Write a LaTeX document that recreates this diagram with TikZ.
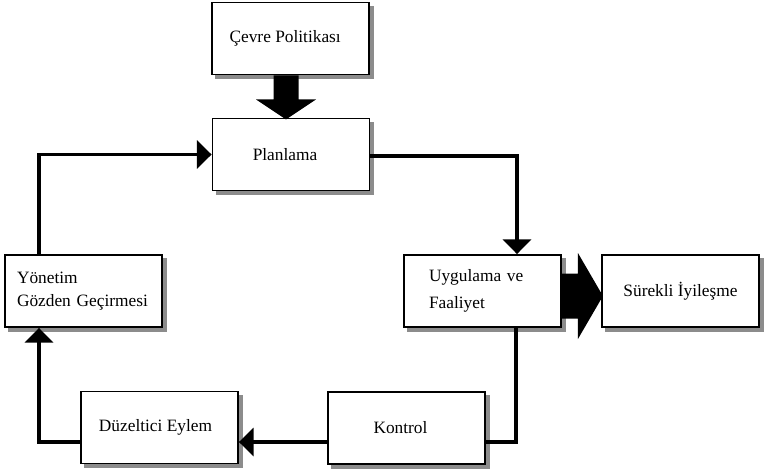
\documentclass[tikz,border=0pt]{standalone}
\usepackage{fontspec}
\setmainfont{Liberation Serif}
\usetikzlibrary{arrows.meta,calc,backgrounds}
\begin{document}
\begin{tikzpicture}[x=0.75pt,y=-0.75pt,
  box/.style={draw,line width=1.4pt,fill=white,minimum width=117.75pt,minimum height=54pt,inner sep=0pt,
    font=\fontsize{13}{15.5}\selectfont},
  lbox/.style={box,align=left},
  shadowfill/.style={fill=black!45},
  conn/.style={line width=2.3pt},
  arr/.style={conn,-{Triangle[width=21pt,length=11pt]}},
  bigarrow/.style={fill=black}]
\useasboundingbox (0,0) rectangle (764,472);

\node[box] (cevre) at (290.5,38.5) {Çevre Politikası\hspace*{8pt}};
\node[box] (plan) at (291,154.5) {Planlama\hspace*{9pt}};
\node[lbox,inner xsep=18.75pt,text width=80.25pt] (uyg) at (482.5,291) {Uygulama ve\\[5pt]Faaliyet};
\node[box] (surekli) at (680.5,291) {Sürekli İyileşme};
\node[lbox,inner xsep=9pt,text width=99.75pt] (yonetim) at (83.5,291) {Yönetim\\[2pt]Gözden Geçirmesi};
\node[box] (duz) at (159.5,427.5) {Düzeltici Eylem\hspace*{6pt}};
\node[box] (kontrol) at (406.5,428) {Kontrol\hspace*{9pt}};

\begin{pgfonlayer}{background}
\foreach \n in {cevre,plan,uyg,surekli,yonetim,duz,kontrol}{
  \fill[shadowfill] ($(\n.south west)+(4,4)$) rectangle ($(\n.north east)+(4,4)$);
}
\end{pgfonlayer}

\coordinate (pr) at (517,156);
\draw[arr] (plan.east |- pr) -- (pr) -- (pr |- uyg.north);
\coordinate (kr) at (516,442);
\draw[conn] (kr |- uyg.south) -- (kr) -- (kr -| kontrol.east);
\draw[arr] (kontrol.west |- kr) -- (duz.east |- kr);
\coordinate (yl) at (39,442);
\draw[arr] (duz.west |- yl) -- (yl) -- (yl |- yonetim.south);
\coordinate (yt) at (39,154.5);
\draw[arr] (yt |- yonetim.north) -- (yt) -- (plan.west);

\fill[bigarrow] ($(cevre.south)+(-17,0)$) -- ++(25,0) -- ++(0,24) -- ++(17.5,0) -- ++(-30,20) -- ++(-30,-20) -- ++(17.5,0) -- cycle;
\fill[bigarrow] ($(uyg.east)+(0,-17.5)$) -- ++(16,0) -- ++(0,-20.5) -- ++(25,43) -- ++(-25,43) -- ++(0,-20.5) -- ++(-16,0) -- cycle;
\end{tikzpicture}
\end{document}
